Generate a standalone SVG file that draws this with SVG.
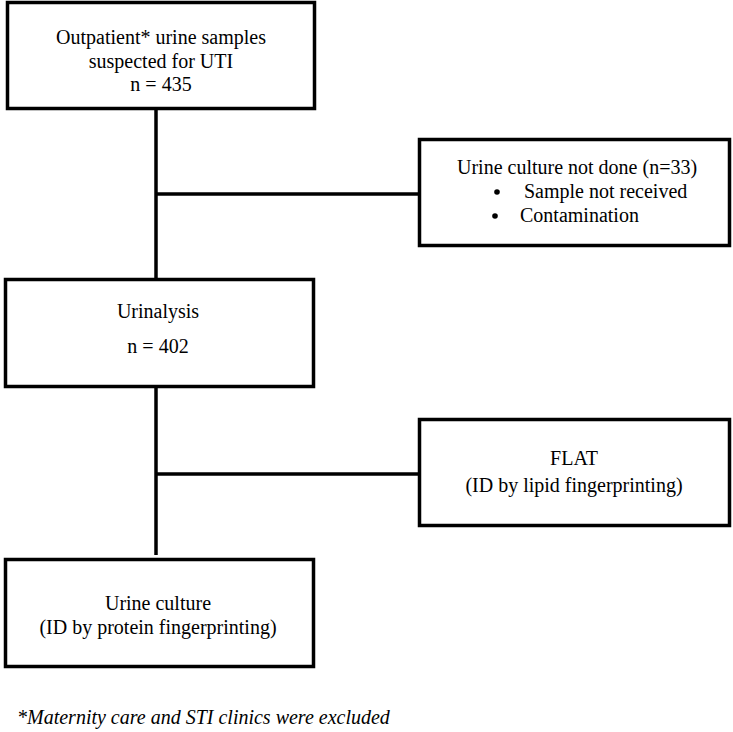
<svg xmlns="http://www.w3.org/2000/svg" width="733" height="732" viewBox="0 0 733 732">
<style>
.box{fill:#fff;stroke:#000;stroke-width:3.5}
.ln{stroke:#000;stroke-width:3.5;fill:none}
.c{text-anchor:middle}
</style>
<rect width="733" height="732" fill="#fff"/>
<g id="connectors">
<line class="ln" x1="156" y1="109" x2="156" y2="279"/>
<line class="ln" x1="156" y1="194" x2="419" y2="194"/>
<line class="ln" x1="156" y1="387" x2="156" y2="555"/>
<line class="ln" x1="156" y1="474" x2="419" y2="474"/>
</g>
<g font-family="'Liberation Serif', 'Times New Roman', 'DejaVu Serif', serif" font-size="20" fill="#000">
<g id="n1">
<rect class="box" x="7.5" y="2.5" width="307" height="106"/>
<text class="c" x="161" y="44">Outpatient* urine samples</text>
<text class="c" x="161" y="68">suspected for UTI</text>
<text class="c" x="161" y="91">n = 435</text>
</g>
<g id="n2">
<rect class="box" x="419.5" y="139.5" width="310" height="106"/>
<text x="457" y="174">Urine culture not done (n=33)</text>
<circle cx="497" cy="192" r="2.8"/>
<text x="524" y="198">Sample not received</text>
<circle cx="495" cy="216" r="2.8"/>
<text x="520" y="222">Contamination</text>
</g>
<g id="n3">
<rect class="box" x="5.5" y="279.5" width="308" height="107"/>
<text class="c" x="158" y="318">Urinalysis</text>
<text class="c" x="158" y="353">n = 402</text>
</g>
<g id="n4">
<rect class="box" x="419.5" y="419.5" width="310" height="106"/>
<text class="c" x="574" y="465">FLAT</text>
<text class="c" x="574" y="492">(ID by lipid fingerprinting)</text>
</g>
<g id="n5">
<rect class="box" x="5.5" y="559.5" width="308" height="107"/>
<text class="c" x="158" y="610">Urine culture</text>
<text class="c" x="158" y="634">(ID by protein fingerprinting)</text>
</g>
<text font-style="italic" x="17" y="724">*Maternity care and STI clinics were excluded</text>
</g>
</svg>
